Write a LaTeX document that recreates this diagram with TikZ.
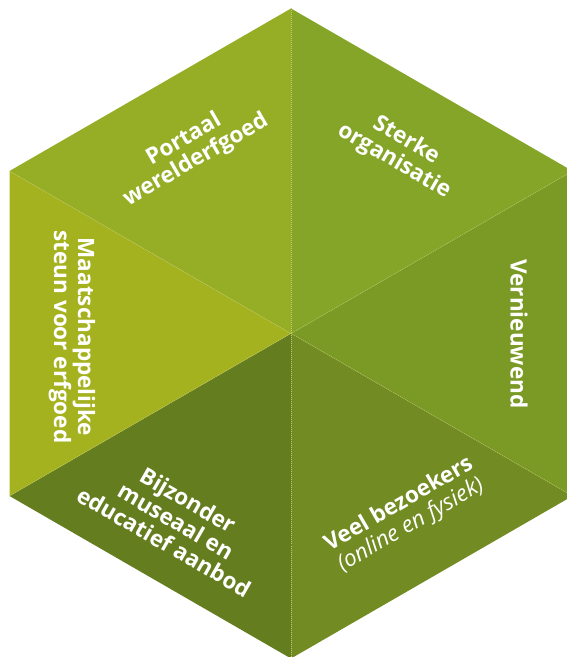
\documentclass[tikz,border=0pt]{standalone}
\usepackage{fontspec}
\setmainfont{Open Sans}
\usepackage{xcolor}
\usetikzlibrary{calc}

\definecolor{segA}{HTML}{96AD26}
\definecolor{segB}{HTML}{84A528}
\definecolor{segC}{HTML}{7A9A25}
\definecolor{segD}{HTML}{728B22}
\definecolor{segE}{HTML}{647D1F}
\definecolor{segF}{HTML}{A5B21F}
\definecolor{seam}{HTML}{C2CC6E}

\begin{document}
\begin{tikzpicture}[x=1pt,y=1pt]%
  \tikzstyle{seamline}=[draw=seam,line width=0.5pt,dash pattern=on 1pt off 1pt]
  \tikzstyle{lbl}=[text=white,font=\bfseries\fontsize{22.5}{24}\selectfont,align=center,inner sep=0]
  \clip (0,0) rectangle (567,657);
  \coordinate (c) at (291,323.5);
  \coordinate (t) at ($(c)+(90:325)$);
  \coordinate (ul) at ($(c)+(150:325)$);
  \coordinate (ll) at ($(c)+(210:325)$);
  \coordinate (b) at ($(c)+(270:325)$);
  \coordinate (lr) at ($(c)+(330:325)$);
  \coordinate (ur) at ($(c)+(30:325)$);
  % six sectors
  \fill[segA] (c) -- (t) -- (ul) -- cycle;
  \fill[segB] (c) -- (t) -- (ur) -- cycle;
  \fill[segC] (c) -- (ur) -- (lr) -- cycle;
  \fill[segD] (c) -- (lr) -- (b) -- cycle;
  \fill[segE] (c) -- (b) -- (ll) -- cycle;
  \fill[segF] (c) -- (ll) -- (ul) -- cycle;
  \foreach \v in {t,ul,ll,b,lr,ur}
    \draw[seamline] (c) -- (\v);
  % labels
  \node(portaal)[lbl,rotate=30] at (190,507) {Portaal\\werelderfgoed};
  \node(sterke)[lbl,rotate=-30] at (400,506) {Sterke\\organisatie};
  \node(vernieuwend)[lbl,rotate=-90] at (519,323) {Vernieuwend};
  \node(maatsch)[lbl,rotate=-90] at (72,320) {Maatschappelijke\\steun voor erfgoed};
  \node(bijzonder)[lbl,rotate=-30] at (176,136) {Bijzonder\\museaal en\\educatief aanbod};
  \node(veel)[lbl,rotate=30] at (405,142) {Veel bezoekers\\{\mdseries\itshape (online en fysiek)}};
\end{tikzpicture}
\end{document}
